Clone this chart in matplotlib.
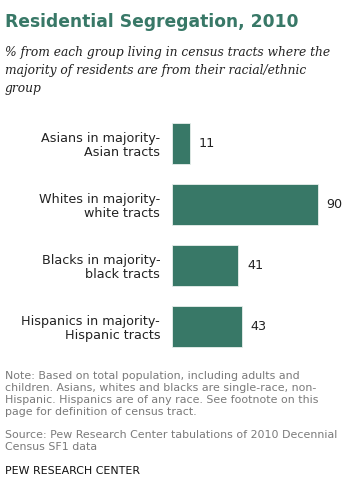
import matplotlib.pyplot as plt

# data
categories = ["Asians in majority-\nAsian tracts",
              "Whites in majority-\nwhite tracts",
              "Blacks in majority-\nblack tracts",
              "Hispanics in majority-\nHispanic tracts"]
values = [11, 90, 41, 43]

W, H = 353, 486
GREEN = "#387867"
GREY = "#7a7a7a"

fig = plt.figure(figsize=(W / 100, H / 100), dpi=100)


def fx(px):
    return px / W


def fy(py):
    return 1 - py / H


# axes placed in pixel terms: left 172, top 113, 61px per row, 1.62 px per unit
ax_left, ax_top, row, scale = 172, 113, 61, 1.62
ax = fig.add_axes([fx(ax_left), fy(ax_top + row * len(values)),
                   fx(scale * 100), row * len(values) / H])
ypos = list(range(len(values)))
ax.barh(ypos, values, height=41 / 61, color=GREEN, edgecolor="#e8efec", linewidth=0.6)
ax.set_xlim(0, 100)
ax.set_ylim(len(values) - 0.5, -0.5)

for s in ['top', 'bottom', 'left', 'right']:
    ax.spines[s].set_visible(False)
ax.set_xticks([])
ax.set_yticks(ypos)
ax.set_yticklabels(categories, fontsize=9.2, color="#222222", linespacing=1.12)
ax.yaxis.set_ticks_position('none')
ax.yaxis.set_tick_params(pad=5)
for lbl in ax.get_yticklabels():
    lbl.set_horizontalalignment('right')
    lbl.set_multialignment('right')

for y, v in zip(ypos, values):
    ax.text(v + 5.5, y, str(v), va='center', ha='left', fontsize=9.2, color="#222222")

# title and subtitle
fig.text(fx(5), fy(22), "Residential Segregation, 2010", fontsize=12.3,
         fontweight='bold', color=GREEN, va='center', ha='left')
fig.text(fx(5), fy(46), "% from each group living in census tracts where the\n"
         "majority of residents are from their racial/ethnic\ngroup",
         fontsize=8.8, style='italic', family='DejaVu Serif', color="#222222",
         va='top', ha='left', linespacing=1.5)

# notes
fig.text(fx(5), fy(371), "Note: Based on total population, including adults and\n"
         "children. Asians, whites and blacks are single-race, non-\n"
         "Hispanic. Hispanics are of any race. See footnote on this\n"
         "page for definition of census tract.",
         fontsize=7.9, color=GREY, va='top', ha='left', linespacing=1.24)
fig.text(fx(5), fy(430), "Source: Pew Research Center tabulations of 2010 Decennial\n"
         "Census SF1 data",
         fontsize=7.9, color=GREY, va='top', ha='left', linespacing=1.24)
fig.text(fx(5), fy(471), "PEW RESEARCH CENTER", fontsize=7.9, color="#111111",
         va='center', ha='left')

plt.savefig("out.png", dpi=100)
